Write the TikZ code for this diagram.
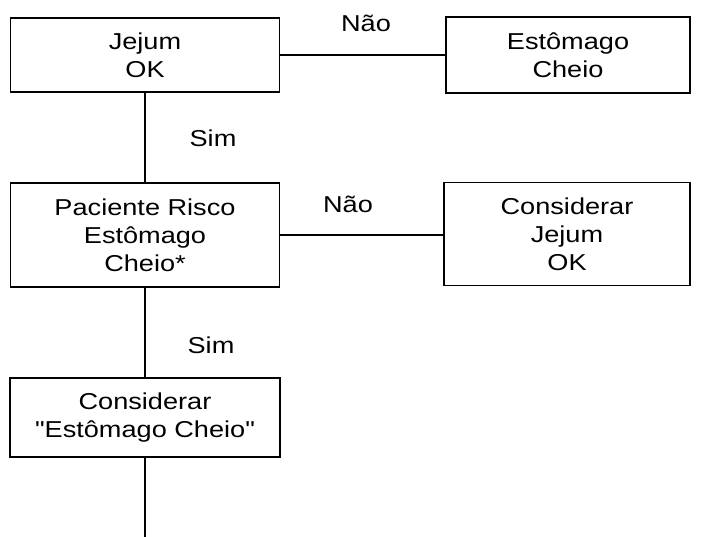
\documentclass[tikz,border=0pt]{standalone}
\usepackage{fontspec}
\setmainfont[FakeStretch=1.18, Ligatures=TeXOff]{Liberation Sans}
\begin{document}
\begin{tikzpicture}[x=1pt,y=-1pt,
  box/.style={draw=black, line width=1.4pt, rectangle, align=center,
    inner sep=0pt, font=\fontsize{23}{28}\selectfont},
  lbl/.style={anchor=base, inner sep=0pt, font=\fontsize{23}{28}\selectfont},
  conn/.style={draw=black, line width=1.2pt}]
\useasboundingbox (0,0) rectangle (704,537);
% left column of decision boxes
\node[box, minimum width=269pt, minimum height=74pt] (b1) at (145,55) {Jejum\\OK};
\node[box, minimum width=269pt, minimum height=104pt] (b3) at (145,235) {Paciente Risco\\Estômago\\Cheio*};
\node[box, minimum width=270pt, minimum height=79pt] (b5) at (145,417.5) {Considerar\\"Estômago Cheio"};
% right column of outcomes
\node[box, minimum width=244pt, minimum height=76pt] (b2) at (568,55) {Estômago\\Cheio};
\node[box, minimum width=246pt, minimum height=103pt] (b4) at (567,234) {Considerar\\Jejum\\OK};
\coordinate (end) at (145,537);
% connectors
\draw[conn] (b1) -- (b3);
\draw[conn] (b3) -- (b5);
\draw[conn] (b5) -- (end);
\draw[conn] (b1.east) -- (b1.east -| b2.west);
\draw[conn] (b3.east) -- (b3.east -| b4.west);
% branch labels
\node[lbl] (n1) at (366,32) {Não};
\node[lbl] (s1) at (213,147) {Sim};
\node[lbl] (n2) at (348,213) {Não};
\node[lbl] (s2) at (211,353) {Sim};
\end{tikzpicture}
\end{document}
